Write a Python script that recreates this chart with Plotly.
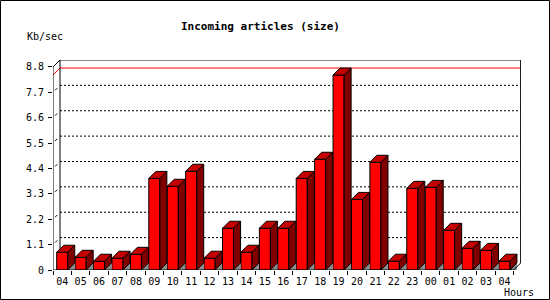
import plotly.graph_objects as go

# ---------------- data ----------------
hours = ["04", "05", "06", "07", "08", "09", "10", "11", "12", "13", "14", "15", "16",
         "17", "18", "19", "20", "21", "22", "23", "00", "01", "02", "03", "04"]
kb_per_sec = [0.77, 0.55, 0.38, 0.51, 0.68, 3.97, 3.63, 4.28, 0.51, 1.81, 0.77, 1.81, 1.81,
              3.97, 4.80, 8.45, 3.06, 4.67, 0.38, 3.54, 3.58, 1.72, 0.94, 0.85, 0.38]
y_ticks = [0, 1.1, 2.2, 3.3, 4.4, 5.5, 6.6, 7.7, 8.8]
y_ticktext = ["0", "1.1", "2.2", "3.3", "4.4", "5.5", "6.6", "7.7", "8.8"]
title_text = "Incoming articles (size)"
y_title = "Kb/sec"
x_title = "Hours"

# ---------------- geometry (pixels -> data units) ----------------
W, H = 550, 300
ML, MR, MT, MB = 53, 29, 60, 30
PW = W - ML - MR          # 468
PH = H - MT - MB          # 210
PX_PER_X = 18.425
PX_PER_Y = 23.07
DEPTH = 7
ddx = DEPTH / PX_PER_X
ddy = DEPTH / PX_PER_Y
n = len(hours)
xs = list(range(n))
x_lo, x_hi = -0.5, n - 0.5
y_top = y_ticks[-1]
bw = 0.6

RED = "#FF0000"
SIDE = "#800000"
TOP = "#C40000"
GRAY = "#8C8C8C"

fig = go.Figure()

# front faces
fig.add_trace(go.Bar(x=xs, y=kb_per_sec, width=bw,
                     marker=dict(color=RED, line=dict(color="black", width=1)),
                     hoverinfo="skip", showlegend=False))

# floor shadows, side faces, top faces (polygons derived from data)
gx, gy, sx, sy, tx, ty = [], [], [], [], [], []
for i, v in zip(xs, kb_per_sec):
    xl, xr = i - bw / 2, i + bw / 2
    gx += [xr, xr + ddx, xr + ddx, xr, None]
    gy += [0, ddy, 0, 0, None]
    sx += [xr, xr + ddx, xr + ddx, xr, xr, None]
    sy += [0, ddy, v + ddy, v, 0, None]
    tx += [xl, xr, xr + ddx, xl + ddx, xl, None]
    ty += [v, v, v + ddy, v + ddy, v, None]

fig.add_trace(go.Scatter(x=gx, y=gy, mode="lines", fill="toself", fillcolor=GRAY,
                         line=dict(color=GRAY, width=0), hoverinfo="skip", showlegend=False))
fig.add_trace(go.Scatter(x=sx, y=sy, mode="lines", fill="toself", fillcolor=SIDE,
                         line=dict(color="black", width=1), hoverinfo="skip", showlegend=False))
fig.add_trace(go.Scatter(x=tx, y=ty, mode="lines", fill="toself", fillcolor=TOP,
                         line=dict(color="black", width=1), hoverinfo="skip", showlegend=False))

shapes = []


def seg(x0, y0, x1, y1, color="black", dash="solid", layer="below", width=1):
    shapes.append(dict(type="line", xref="x", yref="y", x0=x0, y0=y0, x1=x1, y1=y1,
                       line=dict(color=color, width=width, dash=dash), layer=layer))


# back-plane dotted gridlines and side-wall marks
for v in y_ticks[1:-1]:
    seg(x_lo + ddx, v + ddy, x_hi + ddx, v + ddy, dash="2px,2px")
    seg(x_lo + 0.3 * ddx, v + 0.3 * ddy, x_lo + 0.6 * ddx, v + 0.6 * ddy)

# max line
vmax = max(kb_per_sec)
seg(x_lo + ddx, vmax + ddy, x_hi + ddx, vmax + ddy, color=RED)
seg(x_lo, vmax, x_lo + ddx, vmax + ddy, color=RED)

# back wall frame
seg(x_lo + ddx, ddy, x_lo + ddx, y_top + ddy)
seg(x_lo + ddx, y_top + ddy, x_hi + ddx, y_top + ddy)
seg(x_hi + ddx, ddy, x_hi + ddx, y_top + ddy)
seg(x_lo, y_top, x_lo + ddx, y_top + ddy)
seg(x_hi, 0, x_hi + ddx, ddy, layer="above")

# front axes
seg(x_lo, 0, x_lo, y_top, layer="above")
seg(x_lo, 0, x_hi, 0, layer="above")

# outer image border
shapes.append(dict(type="rect", xref="paper", yref="paper",
                   x0=(0.5 - ML) / PW, x1=(W - 0.5 - ML) / PW,
                   y0=(MT + PH - (H - 0.5)) / PH, y1=(MT + PH - 0.5) / PH,
                   line=dict(color="black", width=1), fillcolor="rgba(0,0,0,0)", layer="above"))

LABEL_FONT = dict(family="DejaVu Sans Mono", size=10, color="black")


def px2paper(px, py):
    return (px - ML) / PW, (MT + PH - py) / PH


annotations = []
for text, (px, py), font in [
    (f"<b>{title_text}</b>", (260.5, 27), dict(family="DejaVu Sans Mono", size=11, color="black")),
    (y_title, (45, 37), LABEL_FONT),
    (x_title, (519, 292), LABEL_FONT),
]:
    ax, ay = px2paper(px, py)
    annotations.append(dict(text=text, x=ax, y=ay, xref="paper", yref="paper",
                            xanchor="center", yanchor="middle", showarrow=False, font=font))

fig.update_layout(
    width=W, height=H,
    margin=dict(l=ML, r=MR, t=MT, b=MB, pad=0),
    paper_bgcolor="white", plot_bgcolor="white",
    showlegend=False,
    shapes=shapes,
    annotations=annotations,
    xaxis=dict(range=[x_lo, x_lo + PW / PX_PER_X], showgrid=False, zeroline=False, showline=False,
               tickmode="array", tickvals=xs, ticktext=hours, ticks="",
               ticklabelstandoff=4,
               tickfont=LABEL_FONT, fixedrange=True,
               minor=dict(tickmode="array", tickvals=[i - 0.5 for i in range(n + 1)],
                          ticks="outside", ticklen=4, tickwidth=1, tickcolor="black",
                          showgrid=False)),
    yaxis=dict(range=[0, PH / PX_PER_Y], showgrid=False, zeroline=False, showline=False,
               tickmode="array", tickvals=y_ticks, ticktext=y_ticktext,
               ticks="outside", ticklen=4, tickwidth=1, tickcolor="black",
               ticklabelstandoff=2,
               tickfont=LABEL_FONT, fixedrange=True),
)

fig.write_html("out.html")
